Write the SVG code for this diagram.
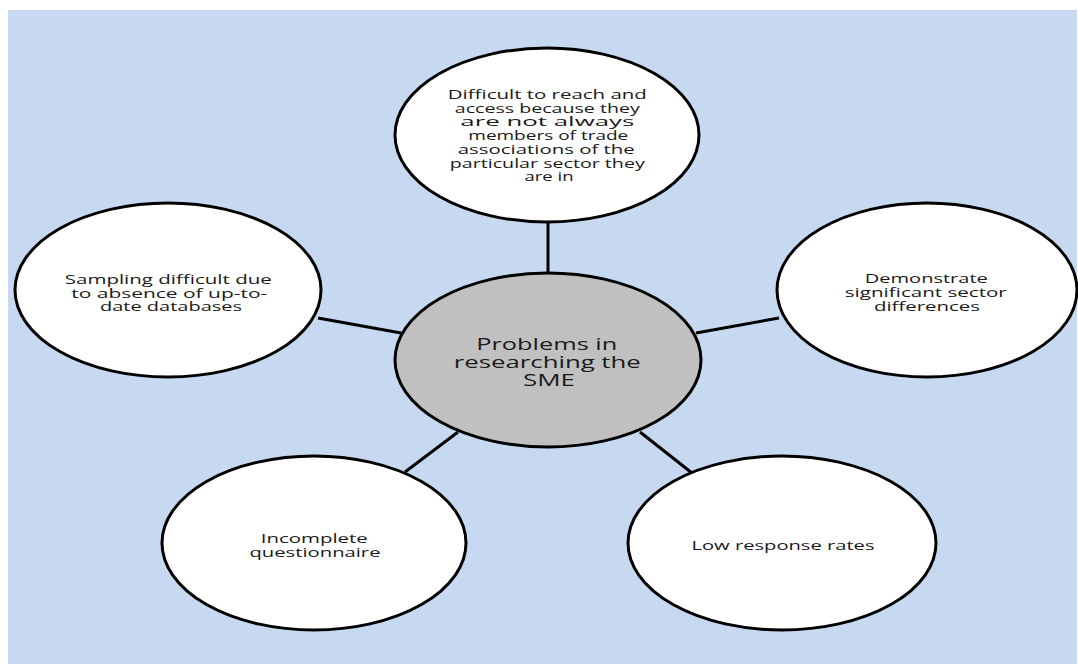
<svg xmlns="http://www.w3.org/2000/svg" width="1078" height="664" viewBox="0 0 1078 664">
  <style>
    .bubble { fill: #ffffff; stroke: #000000; stroke-width: 3; }
    .hub { fill: #c0c0c0; stroke: #000000; stroke-width: 3; }
    .link { stroke: #000000; stroke-width: 3; fill: none; }
    .lbl { font-family: "Open Sans", "Lato", sans-serif; font-size: 13px; fill: #1a1a1a; text-anchor: middle; }
    .hub-lbl { font-family: "Open Sans", "Lato", sans-serif; font-size: 17px; fill: #1a1a1a; text-anchor: middle; }
  </style>

  <rect x="8" y="10" width="1069" height="654" fill="#c6d9f0"/>

  <g id="connectors">
    <line class="link" x1="548" y1="222" x2="548" y2="274"/>
    <line class="link" x1="318" y1="318" x2="401" y2="333"/>
    <line class="link" x1="696" y1="333" x2="779" y2="318"/>
    <line class="link" x1="405" y1="472" x2="458" y2="432"/>
    <line class="link" x1="640" y1="432" x2="692" y2="473"/>
  </g>

  <g id="node-access">
    <ellipse class="bubble" cx="547" cy="135" rx="152" ry="87"/>
    <text class="lbl">
      <tspan x="549" y="99" textLength="199" lengthAdjust="spacingAndGlyphs">Difficult to reach and</tspan>
      <tspan x="549" y="112.5" textLength="185" lengthAdjust="spacingAndGlyphs">access because they</tspan>
      <tspan x="549" y="126" textLength="174" lengthAdjust="spacingAndGlyphs">are not always</tspan>
      <tspan x="550" y="140" textLength="160" lengthAdjust="spacingAndGlyphs">members of trade</tspan>
      <tspan x="548" y="153.5" textLength="177" lengthAdjust="spacingAndGlyphs">associations of the</tspan>
      <tspan x="549" y="167.5" textLength="195" lengthAdjust="spacingAndGlyphs">particular sector they</tspan>
      <tspan x="549" y="181" textLength="49" lengthAdjust="spacingAndGlyphs">are in</tspan>
    </text>
  </g>

  <g id="node-sampling">
    <ellipse class="bubble" cx="168" cy="290" rx="153" ry="87"/>
    <text class="lbl">
      <tspan x="170" y="283.5" textLength="207" lengthAdjust="spacingAndGlyphs">Sampling difficult due</tspan>
      <tspan x="171" y="297.5" textLength="196" lengthAdjust="spacingAndGlyphs">to absence of up-to-</tspan>
      <tspan x="171" y="311" textLength="142" lengthAdjust="spacingAndGlyphs">date databases</tspan>
    </text>
  </g>

  <g id="node-sector">
    <ellipse class="bubble" cx="927" cy="290" rx="150" ry="87"/>
    <text class="lbl">
      <tspan x="928" y="282.5" textLength="123" lengthAdjust="spacingAndGlyphs">Demonstrate</tspan>
      <tspan x="927.5" y="296.5" textLength="162" lengthAdjust="spacingAndGlyphs">significant sector</tspan>
      <tspan x="927" y="310.5" textLength="106" lengthAdjust="spacingAndGlyphs">differences</tspan>
    </text>
  </g>

  <g id="node-questionnaire">
    <ellipse class="bubble" cx="314" cy="543" rx="152" ry="87"/>
    <text class="lbl">
      <tspan x="316" y="542.5" textLength="107" lengthAdjust="spacingAndGlyphs">Incomplete</tspan>
      <tspan x="315" y="556.5" textLength="131" lengthAdjust="spacingAndGlyphs">questionnaire</tspan>
    </text>
  </g>

  <g id="node-response">
    <ellipse class="bubble" cx="782" cy="543" rx="154" ry="87"/>
    <text class="lbl">
      <tspan x="783" y="550" textLength="183" lengthAdjust="spacingAndGlyphs">Low response rates</tspan>
    </text>
  </g>

  <g id="node-hub">
    <ellipse class="hub" cx="548" cy="360" rx="153" ry="87"/>
    <text class="hub-lbl">
      <tspan x="549" y="349.5" textLength="141" lengthAdjust="spacingAndGlyphs">Problems in</tspan>
      <tspan x="549.5" y="367.5" textLength="187" lengthAdjust="spacingAndGlyphs">researching the</tspan>
      <tspan x="549" y="385.5" textLength="52" lengthAdjust="spacingAndGlyphs">SME</tspan>
    </text>
  </g>
</svg>
